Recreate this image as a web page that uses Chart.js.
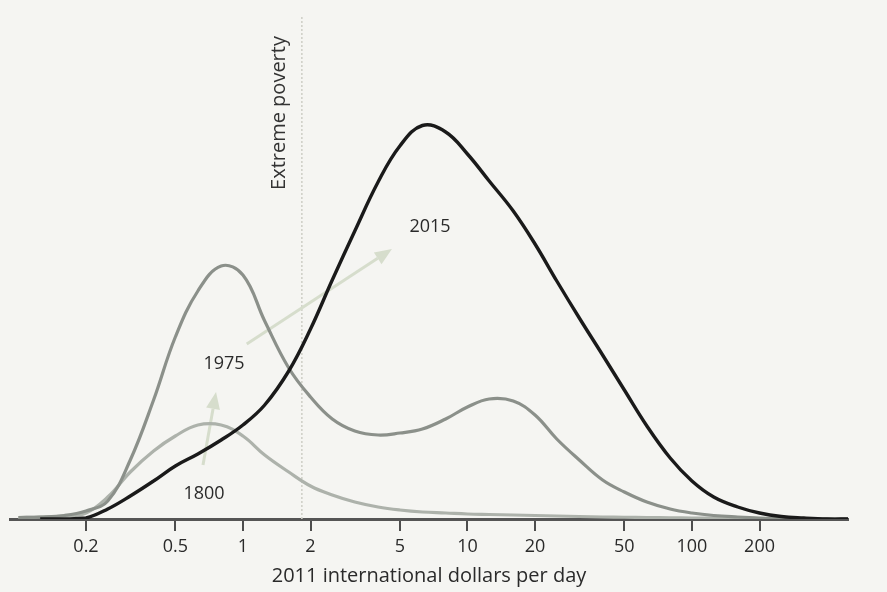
<!DOCTYPE html>
<html>
<head>
<meta charset="utf-8">
<script src="https://cdn.jsdelivr.net/npm/chart.js@4.4.1/dist/chart.umd.min.js"></script>
<style>
  html, body { margin: 0; padding: 0; background: #f5f5f2; }
  #wrap { width: 887px; height: 592px; }
</style>
</head>
<body>
<div id="wrap"><canvas id="c" width="887" height="592"></canvas></div>
<script>
// ---- data (income in 2011 international $ per day, density in arbitrary units) ----
const incomeTicks = [0.2, 0.5, 1, 2, 5, 10, 20, 50, 100, 200];

const income2015 = [0.125, 0.16, 0.2, 0.25, 0.315, 0.4, 0.5, 0.63, 0.8, 1, 1.25, 1.6, 2, 2.5, 3.15, 4, 5, 6.3, 8, 10, 12.5, 16, 20, 25, 31.5, 40, 50, 63, 80, 100, 125, 160, 200, 250, 315, 400, 500];
const density2015 = [0, 0, 0.2, 2.0, 4.6, 7.6, 10.6, 13.0, 15.8, 18.8, 22.8, 29.6, 38.0, 47.8, 57.6, 67.4, 74.6, 78.7, 77.4, 73.0, 67.6, 61.6, 55.0, 47.6, 40.2, 32.8, 25.8, 18.6, 12.2, 7.6, 4.4, 2.4, 1.2, 0.5, 0.2, 0, 0];

const income1975 = [0.1, 0.125, 0.16, 0.2, 0.25, 0.315, 0.4, 0.5, 0.63, 0.8, 1, 1.25, 1.6, 2, 2.5, 3.15, 4, 5, 6.3, 8, 10, 12.5, 16, 20, 25, 31.5, 40, 50, 63, 80, 100, 125, 160, 200, 250, 315, 400, 500];
const density1975 = [0.3, 0.4, 0.7, 1.6, 3.6, 11.8, 23.8, 36.4, 45.6, 50.6, 48.8, 39.6, 30.2, 24.4, 20.0, 17.6, 16.8, 17.2, 18.0, 20.0, 22.4, 24.0, 23.6, 20.8, 16.0, 11.8, 7.8, 5.4, 3.4, 2.0, 1.2, 0.7, 0.4, 0.2, 0.1, 0, 0, 0];

const income1800 = [0.1, 0.125, 0.16, 0.2, 0.25, 0.315, 0.4, 0.5, 0.63, 0.8, 1, 1.25, 1.6, 2, 2.5, 3.15, 4, 5, 6.3, 8, 10, 12.5, 16, 20, 25, 31.5, 40, 50, 63, 80, 100, 125, 160, 200, 250, 315, 400, 500];
const density1800 = [0.3, 0.4, 0.6, 1.2, 4.4, 9.4, 13.6, 16.6, 18.8, 18.8, 16.6, 12.8, 9.4, 6.6, 4.8, 3.4, 2.4, 1.8, 1.4, 1.2, 1.0, 0.9, 0.8, 0.7, 0.6, 0.5, 0.4, 0.35, 0.3, 0.25, 0.2, 0.2, 0.15, 0.1, 0.1, 0, 0, 0];

const povertyLine = 1.83;
const povertyLabel = 'Extreme poverty';
const axisTitle = '2011 international dollars per day';

// year labels: [text, income, density]
const yearLabels = [['2015', 6.81, 58.4], ['1975', 0.824, 31], ['1800', 0.671, 5]];
// arrows: [fromIncome, fromDensity, toIncome, toDensity]
const arrows = [[0.664, 10.8, 0.759, 25.4], [1.04, 35.0, 4.61, 54]];

const pts = (xs, ys) => xs.map((x, i) => ({ x: x, y: ys[i] }));

const FONT = '"Open Sans", Lato, "DejaVu Sans", sans-serif';

const annot = {
  id: 'annot',
  beforeDatasetsDraw(chart) {
    const ctx = chart.ctx, xs = chart.scales.x, ys = chart.scales.y, area = chart.chartArea;
    ctx.save();
    // extreme poverty dotted line
    const px = xs.getPixelForValue(povertyLine);
    ctx.strokeStyle = '#cfd0c8';
    ctx.lineWidth = 1.6;
    ctx.setLineDash([2, 2]);
    ctx.beginPath();
    ctx.moveTo(px, area.top - 2);
    ctx.lineTo(px, area.bottom);
    ctx.stroke();
    ctx.setLineDash([]);
    // rotated label
    ctx.save();
    ctx.translate(px - 23, ys.getPixelForValue(81.2));
    ctx.rotate(-Math.PI / 2);
    ctx.fillStyle = '#333';
    ctx.font = '20px ' + FONT;
    ctx.textAlign = 'center';
    ctx.textBaseline = 'middle';
    ctx.fillText(povertyLabel, 0, 0);
    ctx.restore();
    // arrows
    ctx.strokeStyle = '#d6ddcc';
    ctx.fillStyle = '#d6ddcc';
    ctx.lineWidth = 3;
    arrows.forEach(a => {
      const x0 = xs.getPixelForValue(a[0]), y0 = ys.getPixelForValue(a[1]);
      const x1 = xs.getPixelForValue(a[2]), y1 = ys.getPixelForValue(a[3]);
      const ang = Math.atan2(y1 - y0, x1 - x0);
      const hl = 17, hw = 7;
      const bx = x1 - hl * Math.cos(ang), by = y1 - hl * Math.sin(ang);
      ctx.beginPath();
      ctx.moveTo(x0, y0);
      ctx.lineTo(bx, by);
      ctx.stroke();
      ctx.beginPath();
      ctx.moveTo(x1, y1);
      ctx.lineTo(bx + hw * Math.sin(ang), by - hw * Math.cos(ang));
      ctx.lineTo(bx - hw * Math.sin(ang), by + hw * Math.cos(ang));
      ctx.closePath();
      ctx.fill();
    });
    // year labels
    ctx.fillStyle = '#2a2a2a';
    ctx.font = '18px ' + FONT;
    ctx.textAlign = 'center';
    ctx.textBaseline = 'middle';
    yearLabels.forEach(l => {
      ctx.fillText(l[0], xs.getPixelForValue(l[1]), ys.getPixelForValue(l[2]));
    });
    ctx.restore();
  }
};

new Chart(document.getElementById('c'), {
  type: 'line',
  data: {
    datasets: [
      { label: '2015', data: pts(income2015, density2015), borderColor: '#1a1a1a', borderWidth: 3.4 },
      { label: '1975', data: pts(income1975, density1975), borderColor: '#8b908a', borderWidth: 3.2 },
      { label: '1800', data: pts(income1800, density1800), borderColor: '#adb2ab', borderWidth: 3.2 }
    ]
  },
  options: {
    responsive: false,
    animation: false,
    devicePixelRatio: 1,
    layout: { padding: { left: 10, right: 39, top: 19, bottom: 0 } },
    elements: { point: { radius: 0 }, line: { tension: 0.4, fill: false, capBezierPoints: true } },
    plugins: { legend: { display: false }, tooltip: { enabled: false } },
    scales: {
      x: {
        type: 'logarithmic',
        position: 'bottom',
        min: 0.09173,
        max: 495.6,
        afterBuildTicks: s => { s.ticks = incomeTicks.map(v => ({ value: v })); },
        afterFit: s => { s.height = 73; },
        ticks: {
          autoSkip: false, maxRotation: 0, minRotation: 0, padding: 5,
          color: '#2a2a2a', font: { family: FONT, size: 18 },
          callback: v => incomeTicks.includes(v) ? String(v) : ''
        },
        grid: { drawOnChartArea: false, drawTicks: true, tickLength: 12, color: '#4d4d4d', lineWidth: 2 },
        border: { display: true, color: '#555', width: 3 },
        title: { display: true, text: axisTitle, color: '#2a2a2a', font: { family: FONT, size: 20 }, padding: { top: 0, bottom: 4 } }
      },
      y: { display: false, min: 0, max: 100 }
    }
  },
  plugins: [annot]
});
</script>
</body>
</html>
